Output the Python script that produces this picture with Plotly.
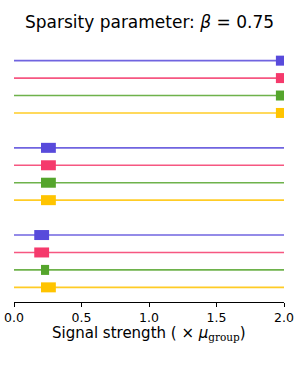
import plotly.graph_objects as go

# ---- data ----
series_names = ["Series A", "Series B", "Series C", "Series D"]
series_colors = ["#584ADB", "#F53A6C", "#55A52C", "#FFC400"]
groups = ["Group 1", "Group 2", "Group 3"]
# interval (low, high) of signal strength, per group, per series
low_vals = [
    [1.94, 1.94, 1.94, 1.94],
    [0.20, 0.20, 0.20, 0.20],
    [0.15, 0.15, 0.20, 0.20],
]
high_vals = [
    [2.00, 2.00, 2.00, 2.00],
    [0.31, 0.31, 0.31, 0.31],
    [0.26, 0.26, 0.26, 0.31],
]
x_min, x_max = 0.0, 2.0
tick_vals = [0.0, 0.5, 1.0, 1.5, 2.0]
tick_text = ["0.0", "0.5", "1.0", "1.5", "2.0"]

fig = go.Figure()
for gi, g in enumerate(groups):
    for si, name in enumerate(series_names):
        row = gi * 5 + si
        col = series_colors[si]
        fig.add_trace(go.Scatter(
            x=[x_min, x_max], y=[row, row], mode="lines",
            line=dict(color=col, width=1.6), opacity=0.85,
            showlegend=False, hoverinfo="skip"))
        fig.add_trace(go.Scatter(
            x=[low_vals[gi][si], high_vals[gi][si]], y=[row, row], mode="lines",
            line=dict(color=col, width=10), name=name,
            showlegend=False))

font = "DejaVu Sans, Verdana, sans-serif"
fig.update_layout(
    width=299, height=374,
    margin=dict(l=14, r=15, t=46, b=72, autoexpand=False),
    paper_bgcolor="white", plot_bgcolor="white",
    font=dict(family=font, color="black", size=12),
    title=dict(text="Sparsity parameter: <i>β</i> = 0.75",
               x=0.5, xanchor="center", xref="container",
               y=1 - 22.5 / 374, yanchor="middle", yref="container",
               font=dict(family=font, size=17, color="black")),
    xaxis=dict(range=[x_min, x_max], tickvals=tick_vals, ticktext=tick_text,
               showgrid=False, zeroline=False, showline=True, automargin=False,
               linecolor="black", linewidth=1, ticks="outside",
               ticklen=4, tickwidth=1, tickcolor="black",
               tickfont=dict(size=12.5, color="black")),
    yaxis=dict(range=[13.84, -0.84], showgrid=False, zeroline=False, automargin=False,
               showline=False, showticklabels=False, ticks=""),
    annotations=[dict(
        text="Signal strength ( × <i>μ</i><sub><span style='font-family:DejaVu Serif'>group</span></sub>)",
        x=0.5, xref="paper", xanchor="center",
        y=-0.124, yref="paper", yanchor="middle",
        showarrow=False, font=dict(family=font, size=15, color="black"))],
)

fig.write_html("out.html", config={"displayModeBar": False},
               post_script="document.body.style.margin='0';")
